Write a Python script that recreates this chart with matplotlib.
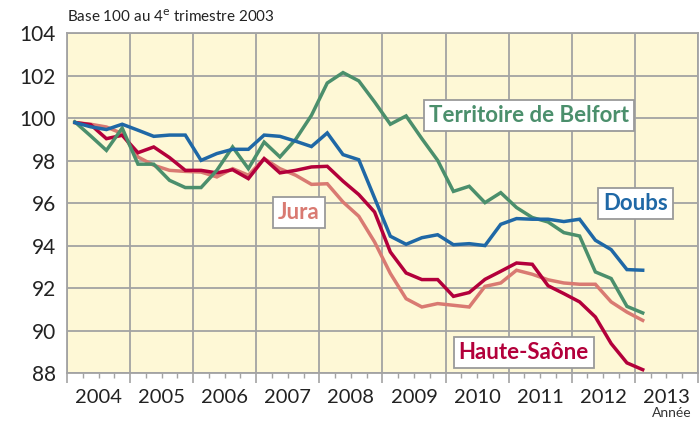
import matplotlib
matplotlib.use("Agg")
import matplotlib.pyplot as plt
import matplotlib.transforms as mtransforms

plt.rcParams["font.family"] = ["Lato", "DejaVu Sans"]

# quarterly index, 2004 Q1 -> 2013 Q1 (base 100 at Q4 2003)
years = ["2004", "2005", "2006", "2007", "2008", "2009", "2010", "2011", "2012", "2013"]

doubs = [99.8, 99.6, 99.47, 99.72, 99.44, 99.15, 99.21, 99.21, 98.02, 98.34,
         98.54, 98.54, 99.21, 99.15, 98.92, 98.67, 99.31, 98.29, 98.05, 96.25,
         94.45, 94.07, 94.38, 94.52, 94.05, 94.1, 94.01, 95.01, 95.28, 95.25,
         95.25, 95.14, 95.25, 94.26, 93.82, 92.88, 92.85]

belfort = [99.83, 99.17, 98.49, 99.54, 97.84, 97.84, 97.08, 96.74, 96.74, 97.55,
           98.65, 97.63, 98.88, 98.18, 99.01, 100.14, 101.66, 102.15, 101.76, 100.77,
           99.72, 100.11, 99.04, 98.02, 96.56, 96.8, 96.03, 96.5, 95.8, 95.33,
           95.12, 94.62, 94.46, 92.77, 92.46, 91.15, 90.84]

haute_saone = [99.8, 99.7, 99.04, 99.2, 98.38, 98.65, 98.15, 97.55, 97.55, 97.43,
               97.58, 97.16, 98.1, 97.43, 97.55, 97.71, 97.74, 97.04, 96.41, 95.59,
               93.71, 92.72, 92.41, 92.41, 91.62, 91.8, 92.42, 92.8, 93.19, 93.13,
               92.12, 91.75, 91.36, 90.65, 89.4, 88.49, 88.17]

jura = [99.8, 99.72, 99.59, 99.28, 98.18, 97.79, 97.55, 97.5, 97.47, 97.24,
        97.63, 97.32, 98.1, 97.63, 97.32, 96.89, 96.92, 96.06, 95.39, 94.18,
        92.7, 91.51, 91.12, 91.28, 91.2, 91.12, 92.09, 92.25, 92.85, 92.66,
        92.4, 92.25, 92.19, 92.19, 91.36, 90.88, 90.49]

series = [
    ("Jura", jura, "#d97a72", 14.7, 95.58),
    ("Haute-Saône", haute_saone, "#b3003b", 28.96, 88.99),
    ("Territoire de Belfort", belfort, "#4b8f6c", 29.28, 100.14),
    ("Doubs", doubs, "#1f68a6", 36.06, 96.0),
]

fig = plt.figure(figsize=(7, 4.24), dpi=100)
ax = fig.add_axes([0.0957, 0.1196, 0.9013, 0.8019])
ax.set_facecolor("#fef8d6")

# x positions: middle of each quarter
x = [i + 0.5 for i in range(len(doubs))]

for name, vals, color, lx, ly in series:
    ax.plot(x, vals, color=color, linewidth=2.5, solid_joinstyle="miter", zorder=3)

for name, vals, color, lx, ly in series:
    ax.text(lx, ly, name, color=color, fontsize=16, fontweight="bold",
            ha="center", va="center", zorder=5,
            bbox=dict(boxstyle="square,pad=0.22", facecolor="white",
                      edgecolor="#9a9a9a", linewidth=1.3))

ax.set_xlim(0, 40)
ax.set_ylim(88, 104)

# grid and frame
grid_color = "#a3a3a3"
ax.set_xticks(range(0, 41, 4))
ax.set_xticks(range(0, 41), minor=True)
ax.set_xticklabels([])
ax.set_yticks(range(88, 105, 2))
ax.grid(True, which="major", color=grid_color, linewidth=1.3, zorder=1)
ax.set_axisbelow(True)
for s in ax.spines.values():
    s.set_color(grid_color)
    s.set_linewidth(1.3)

ax.tick_params(axis="x", which="major", length=7, width=1.2, color=grid_color)
ax.tick_params(axis="x", which="minor", length=3.5, width=1.0, color=grid_color)
ax.tick_params(axis="y", length=0, pad=8, labelsize=15, labelcolor="#222222")

# year labels centred in each year
trans = mtransforms.blended_transform_factory(ax.transData, ax.transAxes)
for k, y in enumerate(years):
    ax.text(4 * k + 2, -0.045, y, transform=trans, ha="center", va="top",
            fontsize=14.5, color="#222222")

fig.text(67 / 700, 1 - 17 / 424, r"Base 100 au 4$^{\rm e}$ trimestre 2003",
         ha="left", va="center", fontsize=11, color="#222222")
fig.text(692 / 700, 1 - 413 / 424, "Année", ha="right", va="center",
         fontsize=10, color="#333333")

fig.savefig("out.png", dpi=100)
